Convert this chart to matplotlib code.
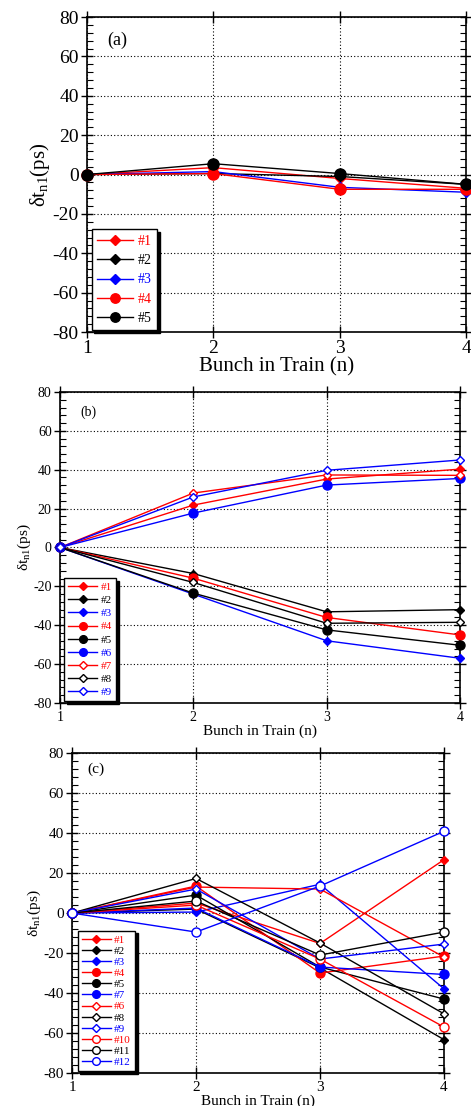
import matplotlib
matplotlib.use('Agg')
import matplotlib.pyplot as plt
from matplotlib.ticker import MultipleLocator

plt.rcParams['font.family'] = ['Liberation Serif', 'DejaVu Serif']
plt.rcParams['mathtext.fontset'] = 'custom'
plt.rcParams['mathtext.rm'] = 'Liberation Serif'
plt.rcParams['mathtext.it'] = 'Liberation Serif'
plt.rcParams['axes.unicode_minus'] = False

bunch = [1, 2, 3, 4]

# panel (a)
a_labels = ['#1', '#2', '#3', '#4', '#5']
a1 = [0, 3.5, -2, -7]
a2 = [0, 0.5, -1, -5]
a3 = [0, 1.5, -6.5, -9]
a4 = [0, 0.5, -7.5, -7.5]
a5 = [0, 5.5, 0.5, -5]

# panel (b)
b_labels = ['#1', '#2', '#3', '#4', '#5', '#6', '#7', '#8', '#9']
b1 = [0, 21.8, 35.2, 40.3]
b2 = [0, -13.4, -33.1, -32]
b3 = [0, -24, -48, -57]
b4 = [0, -15.8, -36, -45]
b5 = [0, -23.5, -42.4, -50.3]
b6 = [0, 17.7, 32.1, 35.5]
b7 = [0, 28, 37.3, 37.1]
b8 = [0, -18, -39, -38.5]
b9 = [0, 26, 39.7, 45]

# panel (c)
c_labels = ['#1', '#2', '#3', '#4', '#5', '#7', '#6', '#8', '#9', '#10', '#11', '#12']
c1 = [0, 5, -15.2, 26.7]
c2 = [0, 2, -27.4, -63.3]
c3 = [0, 0.5, 14.4, -37.9]
c4 = [0, 13.5, -30, -21.5]
c5 = [0, 9, -27, -43]
c7 = [0, 2.5, -27, -30.7]
c6 = [0, 13, 12, -22]
c8 = [0, 17.3, -15, -50.4]
c9 = [0, 12, -23, -15.5]
c10 = [0, 4, -23, -57]
c11 = [0, 6, -21, -9.5]
c12 = [0, -9.5, 13.5, 40.9]

styles = {
    'rd': ('red', 'D', True), 'kd': ('black', 'D', True), 'bd': ('blue', 'D', True),
    'ro': ('red', 'o', True), 'ko': ('black', 'o', True), 'bo': ('blue', 'o', True),
    'rD': ('red', 'D', False), 'kD': ('black', 'D', False), 'bD': ('blue', 'D', False),
    'rO': ('red', 'o', False), 'kO': ('black', 'o', False), 'bO': ('blue', 'o', False),
}


def draw(ax, series, labels, keys, dsize, osize, fsize, tick_fs, label_fs,
         tag, tag_xy, tag_fs, leg_fs, leg_anchor, leg_space):
    for y, lab, k in zip(series, labels, keys):
        col, mk, filled = styles[k]
        ms = dsize if mk == 'D' else osize
        ax.plot(bunch, y, color=col, lw=1.0, marker=mk, ms=ms,
                mfc=col if filled else 'white', mec=col, mew=1.0,
                label=lab, clip_on=False, zorder=3)
    ax.set_xlim(1, 4)
    ax.set_ylim(-80, 80)
    ax.xaxis.set_major_locator(MultipleLocator(1))
    ax.yaxis.set_major_locator(MultipleLocator(20))
    ax.yaxis.set_minor_locator(MultipleLocator(4))
    ax.grid(True, which='major', ls=(0, (1, 2)), color='black', lw=0.8)
    ax.tick_params(which='major', direction='inout', length=8, width=1.0,
                   top=True, right=True, labelsize=tick_fs, pad=2)
    ax.tick_params(which='minor', direction='in', length=4, width=0.8,
                   top=True, right=True)
    for s in ax.spines.values():
        s.set_linewidth(1.2)
    ax.set_xlabel('Bunch in Train (n)', fontsize=label_fs, labelpad=0)
    ax.set_ylabel(r'δt$_{\mathrm{n1}}$(ps)', fontsize=fsize, labelpad=0)
    ax.text(tag_xy[0], tag_xy[1], tag, transform=ax.transAxes, fontsize=tag_fs,
            ha='center', va='center')
    leg = ax.legend(loc='lower left', bbox_to_anchor=leg_anchor, fontsize=leg_fs,
                    frameon=True, fancybox=False, shadow={'color': 'black', 'alpha': 1.0},
                    edgecolor='black', framealpha=1, handlelength=2.6,
                    labelspacing=leg_space, borderpad=0.4, handletextpad=0.3,
                    borderaxespad=0, markerscale=0.85)
    leg.get_frame().set_linewidth(1.0)
    for t, k in zip(leg.get_texts(), keys):
        t.set_color(styles[k][0])


fig = plt.figure(figsize=(4.71, 11.06), dpi=100)

ax_a = fig.add_axes([0.1847, 0.6998, 0.8047, 0.2848])
draw(ax_a, [a1, a2, a3, a4, a5], a_labels, ['rd', 'kd', 'bd', 'ro', 'ko'],
     5.5, 8, 15, 14, 15, '(a)', (0.08, 0.925), 13, 10, (0.012, 0.005), 0.45)

ax_b = fig.add_axes([0.1274, 0.3644, 0.8493, 0.2812])
draw(ax_b, [b1, b2, b3, b4, b5, b6, b7, b8, b9], b_labels,
     ['rd', 'kd', 'bd', 'ro', 'ko', 'bo', 'rD', 'kD', 'bD'],
     4.5, 6.5, 11, 10, 11, '(b)', (0.07, 0.935), 10, 8, (0.01, 0.005), 0.3)

ax_c = fig.add_axes([0.1529, 0.0298, 0.7898, 0.2893])
draw(ax_c, [c1, c2, c3, c4, c5, c7, c6, c8, c9, c10, c11, c12], c_labels,
     ['rd', 'kd', 'bd', 'ro', 'ko', 'bo', 'rD', 'kD', 'bD', 'rO', 'kO', 'bO'],
     4.5, 6.5, 11, 11, 11, '(c)', (0.065, 0.95), 11, 8, (0.015, 0.005), 0.12)

fig.savefig('out.png', dpi=100)
